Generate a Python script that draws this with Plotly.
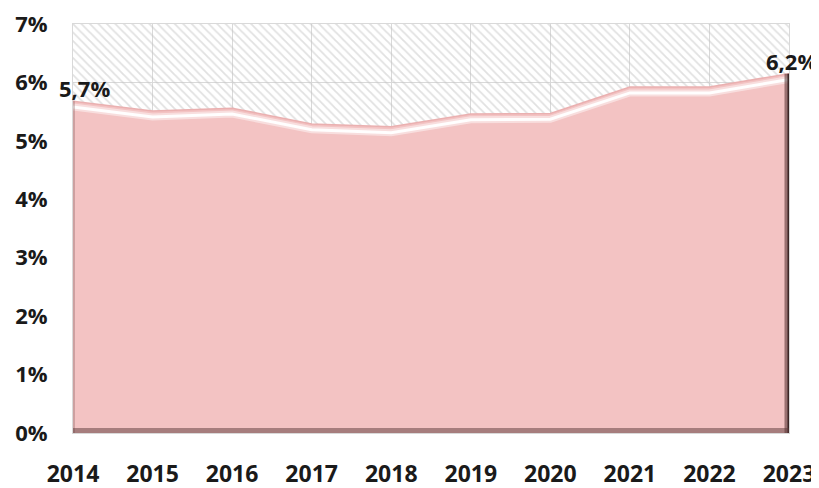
import plotly.graph_objects as go

years = [2014, 2015, 2016, 2017, 2018, 2019, 2020, 2021, 2022, 2023]
rate = [5.68, 5.51, 5.56, 5.29, 5.24, 5.46, 5.47, 5.92, 5.92, 6.15]
label_years = [2014, 2023]
label_text = ['5,7%', '6,2%']
y_ticks = [0, 1, 2, 3, 4, 5, 6, 7]

Y_MAX = 7
PINK = '#f3c3c3'
GRID = '#d9d9d9'
TXT = '#1a1a1a'
FONT = 'Open Sans'

fig = go.Figure()

# hatched backdrop of the plot area (transparent bg so the grid shows)
fig.add_trace(go.Scatter(
    x=years, y=[Y_MAX] * len(years), mode='lines', fill='tozeroy',
    line=dict(width=0), fillcolor='rgba(0,0,0,0)',
    fillpattern=dict(shape='\\', fgcolor='#c4c4c4', bgcolor='rgba(0,0,0,0)',
                     size=6, solidity=0.3),
    hoverinfo='skip', showlegend=False,
))

# main area
fig.add_trace(go.Scatter(
    x=years, y=rate, mode='lines', fill='tozeroy', fillcolor=PINK,
    line=dict(color='#eab0b0', width=1.5), showlegend=False,
))

# bevel highlight just under the top edge (soft glow + bright core)
fig.add_trace(go.Scatter(
    x=years, y=[v - 0.1 for v in rate], mode='lines',
    line=dict(color='rgba(255,255,255,0.45)', width=7),
    hoverinfo='skip', showlegend=False,
))
fig.add_trace(go.Scatter(
    x=years, y=[v - 0.1 for v in rate], mode='lines',
    line=dict(color='rgba(255,255,255,0.95)', width=3),
    hoverinfo='skip', showlegend=False,
))

# bevel shadows: left, right side and bottom
fig.add_trace(go.Scatter(
    x=[years[0], years[0]], y=[0, rate[0]], mode='lines',
    line=dict(color='rgba(120,80,80,0.3)', width=4),
    hoverinfo='skip', showlegend=False,
))
fig.add_trace(go.Scatter(
    x=[years[-1], years[-1]], y=[0, rate[-1]], mode='lines',
    line=dict(color='rgba(80,45,45,0.55)', width=9),
    hoverinfo='skip', showlegend=False,
))
fig.add_trace(go.Scatter(
    x=[years[-1], years[-1]], y=[0, rate[-1]], mode='lines',
    line=dict(color='rgba(50,30,30,0.9)', width=3),
    hoverinfo='skip', showlegend=False,
))
fig.add_trace(go.Scatter(
    x=[years[0], years[-1]], y=[0, 0], mode='lines',
    line=dict(color='rgba(90,55,55,0.5)', width=10),
    hoverinfo='skip', showlegend=False,
))

for yr, txt in zip(label_years, label_text):
    fig.add_annotation(
        x=yr, y=rate[years.index(yr)], text=txt, showarrow=False,
        yanchor='bottom', xanchor='center', xshift=11 if yr == years[0] else 2,
        yshift=-4, font=dict(family=FONT, size=22, color=TXT, weight='bold'),
    )

# page body adds an 8px offset, so the figure is 8px smaller than the window
fig.update_layout(
    width=811, height=480,
    margin=dict(l=65, r=30, t=16, b=55, autoexpand=False),
    paper_bgcolor='white', plot_bgcolor='white',
    font=dict(family=FONT, size=22, color=TXT, weight='bold'),
)
fig.update_xaxes(
    range=[years[0], years[-1]], tickvals=years, ticktext=[str(y) for y in years],
    showgrid=True, gridcolor=GRID, gridwidth=1, zeroline=False,
    showline=True, linecolor=GRID, mirror=True, automargin=False,
    ticks='outside', ticklen=20, tickcolor='rgba(0,0,0,0)',
    tickfont=dict(size=23), ticklabeloverflow='allow',
)
fig.update_yaxes(
    range=[0, Y_MAX], tickvals=y_ticks, ticktext=[f'{t}%' for t in y_ticks],
    showgrid=True, gridcolor=GRID, gridwidth=1, zeroline=False,
    showline=True, linecolor=GRID, mirror=True, automargin=False,
    ticks='outside', ticklen=20, tickcolor='rgba(0,0,0,0)',
    ticklabeloverflow='allow',
)

fig.write_html('out.html')
